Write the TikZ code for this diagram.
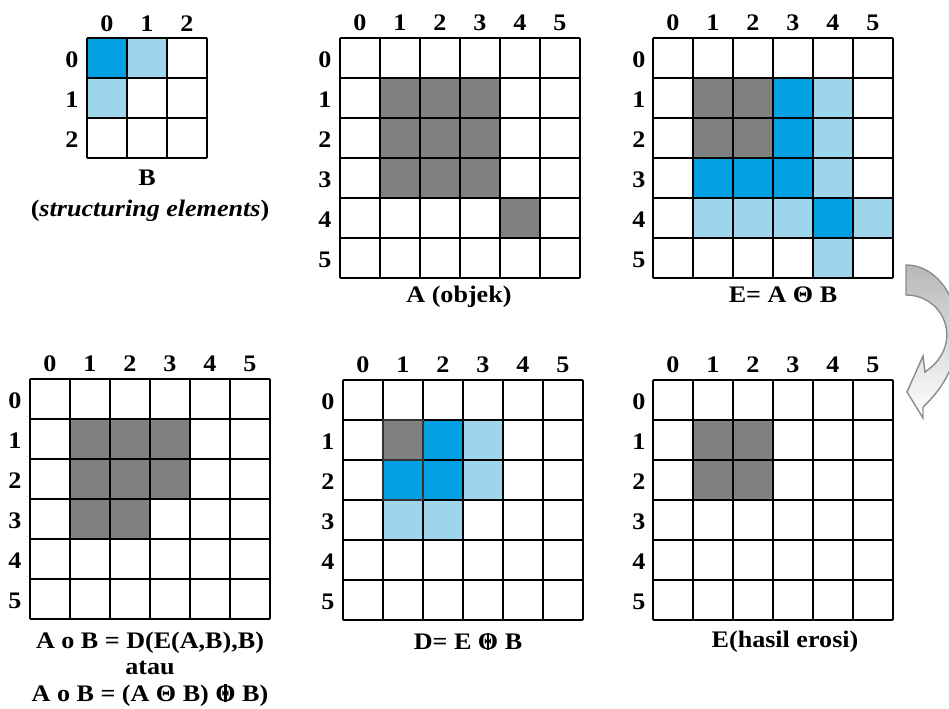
\documentclass[tikz,border=0pt]{standalone}
\usepackage{fontspec}
\setmainfont{Liberation Serif}[FakeStretch=1.1]
\usepackage{tikz}
\usetikzlibrary{positioning}
\usepackage{xcolor}
\definecolor{objek}{RGB}{128,128,128}
\definecolor{biru}{RGB}{0,160,227}
\definecolor{birumuda}{RGB}{157,214,234}
\newcommand{\dilasi}{\ooalign{Θ\cr\hidewidth\rule[-0.03em]{0.09em}{0.74em}\hidewidth\cr}}

\begin{document}
\begin{tikzpicture}[
                x=0.02cm, y=-0.02cm,
                garis/.style={draw=black, line width=0.9pt},
                angka/.style={font=\fontsize{13.5}{16}\selectfont\bfseries, inner sep=0pt},
                judul/.style={font=\fontsize{13.5}{15}\selectfont\bfseries, inner sep=1pt, align=center},
                panah/.style={draw=black!45, line width=0.8pt, top color=black!28, bottom color=white, shading angle=0}
            ]

\useasboundingbox[fill=white] (0,0) rectangle (949,709);

% B (structuring elements)
\begin{scope}[shift={(87,38)}]
\fill[biru] (0,0) rectangle ++(40,40);
\foreach \c/\r in {1/0, 0/1} \fill[birumuda] (\c*40,\r*40) rectangle ++(40,40);
\foreach \k in {0,...,3} {
    \draw[garis] (\k*40,0) -- (\k*40,120);
    \draw[garis] (0,\k*40) -- (120,\k*40);
}
\foreach \k in {0,...,2} {
    \node[angka] (B-k\k) at (20+\k*40,-14) {\k};
    \node[angka] (B-b\k) at (-15,22+\k*40) {\k};
}
\end{scope}

% A (objek)
\begin{scope}[shift={(340,38)}]
\foreach \c/\r in {1/1, 2/1, 3/1, 1/2, 2/2, 3/2, 1/3, 2/3, 3/3, 4/4} \fill[objek] (\c*40,\r*40) rectangle ++(40,40);
\foreach \k in {0,...,6} {
    \draw[garis] (\k*40,0) -- (\k*40,240);
    \draw[garis] (0,\k*40) -- (240,\k*40);
}
\foreach \k in {0,...,5} {
    \node[angka] (A-k\k) at (20+\k*40,-15) {\k};
    \node[angka] (A-b\k) at (-15,22+\k*40) {\k};
}
\end{scope}

% E = A erosi B
\begin{scope}[shift={(653,38)}]
\foreach \c/\r in {1/1, 2/1, 1/2, 2/2} \fill[objek] (\c*40,\r*40) rectangle ++(40,40);
\foreach \c/\r in {3/1, 3/2, 1/3, 2/3, 3/3, 4/4} \fill[biru] (\c*40,\r*40) rectangle ++(40,40);
\foreach \c/\r in {4/1, 4/2, 4/3, 1/4, 2/4, 3/4, 5/4, 4/5} \fill[birumuda] (\c*40,\r*40) rectangle ++(40,40);
\foreach \k in {0,...,6} {
    \draw[garis] (\k*40,0) -- (\k*40,240);
    \draw[garis] (0,\k*40) -- (240,\k*40);
}
\foreach \k in {0,...,5} {
    \node[angka] (E-k\k) at (20+\k*40,-15) {\k};
    \node[angka] (E-b\k) at (-14,22+\k*40) {\k};
}
\end{scope}

% opening
\begin{scope}[shift={(30,379)}]
\foreach \c/\r in {1/1, 2/1, 3/1, 1/2, 2/2, 3/2, 1/3, 2/3} \fill[objek] (\c*40,\r*40) rectangle ++(40,40);
\foreach \k in {0,...,6} {
    \draw[garis] (\k*40,0) -- (\k*40,240);
    \draw[garis] (0,\k*40) -- (240,\k*40);
}
\foreach \k in {0,...,5} {
    \node[angka] (O-k\k) at (20+\k*40,-15) {\k};
    \node[angka] (O-b\k) at (-15,22+\k*40) {\k};
}
\end{scope}

% D = E dilasi B
\begin{scope}[shift={(343,380)}]
\fill[objek] (40,40) rectangle ++(40,40);
\foreach \c/\r in {2/1, 1/2, 2/2} \fill[biru] (\c*40,\r*40) rectangle ++(40,40);
\foreach \c/\r in {3/1, 3/2, 1/3, 2/3} \fill[birumuda] (\c*40,\r*40) rectangle ++(40,40);
\foreach \k in {0,...,6} {
    \draw[garis] (\k*40,0) -- (\k*40,240);
    \draw[garis] (0,\k*40) -- (240,\k*40);
}
\draw[draw=black!80, line width=1.3pt] (40,40) rectangle (80,120) (40,80) -- (80,80);
\foreach \k in {0,...,5} {
    \node[angka] (D-k\k) at (20+\k*40,-15) {\k};
    \node[angka] (D-b\k) at (-15,22+\k*40) {\k};
}
\end{scope}

% hasil erosi
\begin{scope}[shift={(653,380)}]
\foreach \c/\r in {1/1, 2/1, 1/2, 2/2} \fill[objek] (\c*40,\r*40) rectangle ++(40,40);
\foreach \k in {0,...,6} {
    \draw[garis] (\k*40,0) -- (\k*40,240);
    \draw[garis] (0,\k*40) -- (240,\k*40);
}
\foreach \k in {0,...,5} {
    \node[angka] (R-k\k) at (20+\k*40,-15) {\k};
    \node[angka] (R-b\k) at (-14,22+\k*40) {\k};
}
\end{scope}

\node[judul] (capB) at (147,178) {B};
\node[judul] (capB2) at (150,211) {(\textit{structuring elements})};
\node[judul] (capA) at (459,297) {A (objek)};
\node[judul] (capE) at (783,295) {E= A Θ B};
\node[judul] (capO) at (150,669) {A o B = D(E(A,B),B)\\atau\\A o B = (A Θ B) \dilasi{} B)};
\node[judul] (capD) at (468,642) {D= E \dilasi{} B};
\node[judul] (capR) at (785,642) {E(hasil erosi)};

% panah lengkung
\begin{scope}
\clip (0,0) rectangle (949,709);
\path[panah] (906,265) -- (906,295) .. controls (945,295) and (965,345) .. (925,372)
    -- (923,356) -- (907,392) -- (923,418) -- (923,407)
    .. controls (985,350) and (955,265) .. (906,265) -- cycle;
\end{scope}

\end{tikzpicture}
\end{document}
